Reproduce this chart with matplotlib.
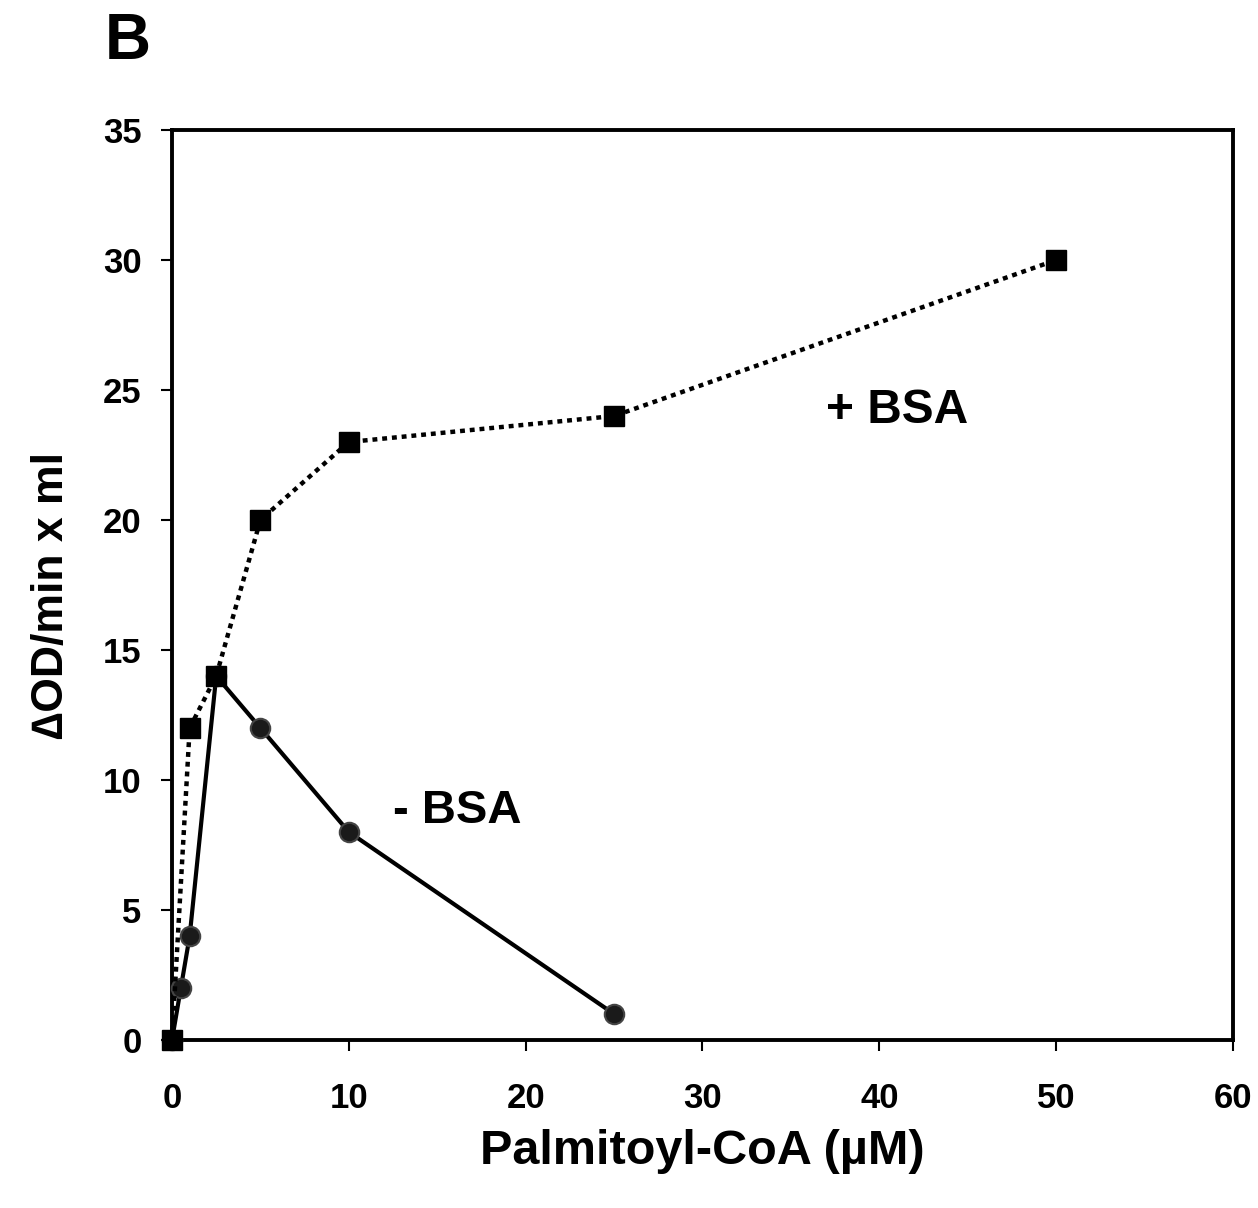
import matplotlib
matplotlib.use("Agg")
import matplotlib.pyplot as plt

plt.rcParams['font.family'] = ['Liberation Sans', 'DejaVu Sans']
plt.rcParams['font.weight'] = 'bold'

# +BSA series
x_bsa = [0, 1, 2.5, 5, 10, 25, 50]
y_bsa = [0, 12, 14, 20, 23, 24, 30]
# -BSA series
x_nobsa = [0, 0.5, 1, 2.5, 5, 10, 25]
y_nobsa = [0, 2, 4, 14, 12, 8, 1]

xticks = [0, 10, 20, 30, 40, 50, 60]
yticks = [0, 5, 10, 15, 20, 25, 30, 35]

fig = plt.figure(figsize=(12.58, 12.08), dpi=100)
ax = fig.add_axes([172/1258, 1 - 1040/1208, (1233-172)/1258, (1040-130)/1208])

ax.plot(x_nobsa, y_nobsa, color='black', lw=3, marker='o', markersize=14,
        markerfacecolor='#1a1a1a', markeredgecolor='#444444', markeredgewidth=1.5,
        zorder=3, clip_on=False)
ax.plot(x_bsa, y_bsa, color='black', lw=3.2, dashes=(1.1, 1.1), marker='s', markersize=14.5,
        markerfacecolor='black', markeredgecolor='black', zorder=4, clip_on=False)

ax.set_xlim(0, 60)
ax.set_ylim(0, 35)
ax.set_xticks(xticks)
ax.set_yticks(yticks)
ax.tick_params(direction='out', length=8, width=1.5, labelsize=25)
ax.tick_params(axis='x', pad=22)
ax.tick_params(axis='y', pad=14)
for lab in ax.get_xticklabels() + ax.get_yticklabels():
    lab.set_fontweight('bold')
for s in ax.spines.values():
    s.set_linewidth(2.8)

ax.set_xlabel('Palmitoyl-CoA (µM)', fontsize=35, fontweight='bold', labelpad=10)
ax.set_ylabel('∆OD/min x ml', fontsize=32, fontweight='bold')
ax.yaxis.set_label_coords(-0.094, 0.489)

ax.text(37, 24.2, '+ BSA', fontsize=34.5, fontweight='bold', ha='left', va='center')
ax.text(12.5, 8.8, '- BSA', fontsize=34, fontweight='bold', ha='left', va='center')

fig.text(105/1258, 1 - 42/1208, 'B', fontsize=46, fontweight='bold', ha='left', va='center')

fig.savefig('out.png', dpi=100)
